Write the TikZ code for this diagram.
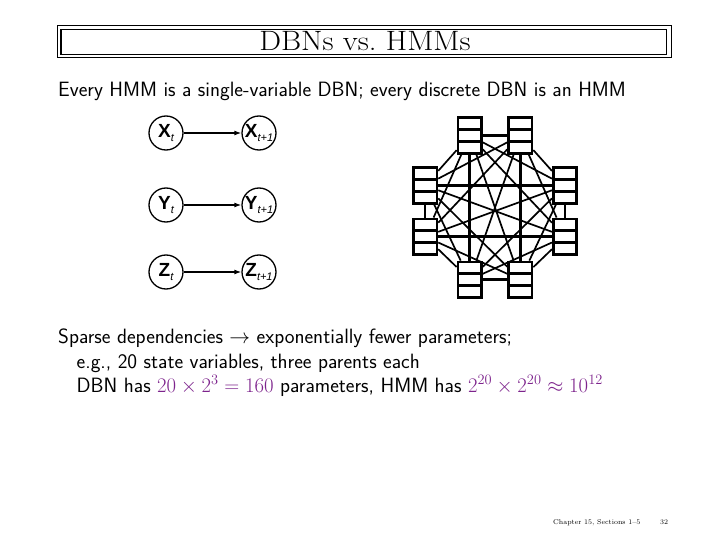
\documentclass[tikz,border=0pt]{standalone}
\usepackage{fontspec}
\newfontfamily\labfont{Liberation Sans}
\usetikzlibrary{arrows.meta,calc}
\definecolor{mathpurple}{RGB}{125,35,140}
\newcommand{\bigX}[2]{{\labfont\bfseries\fontsize{19}{19}\selectfont #1}{\labfont\itshape\fontsize{11}{11}\selectfont\raisebox{-4pt}{#2}}}
\begin{document}
\begin{tikzpicture}[x=1pt,y=-1pt,
  state/.style={circle,draw,line width=1.3pt,minimum size=34pt,inner sep=0pt},
  arr/.style={-{Latex[length=7pt,width=5pt]},line width=1.3pt},
  hbox/.style={rectangle,draw,line width=2.6pt,fill=white,minimum width=23.5pt,minimum height=35.5pt,inner sep=0pt,
    path picture={
      \draw[line width=2.6pt]
        ($(path picture bounding box.north west)!0.3333!(path picture bounding box.south west)$) --
        ($(path picture bounding box.north east)!0.3333!(path picture bounding box.south east)$)
        ($(path picture bounding box.north west)!0.6667!(path picture bounding box.south west)$) --
        ($(path picture bounding box.north east)!0.6667!(path picture bounding box.south east)$);
    }},
  hedge/.style={line width=1.7pt},
  sedge/.style={line width=2.5pt},
  sans/.style={anchor=base west,inner sep=0pt,font=\sffamily\fontsize{20.7}{24}\selectfont}
]
\useasboundingbox (0,0) rectangle (720,540);

% title frame
\draw[line width=1.8pt] (57.5,25.5) rectangle (671.5,57.5);
\draw[line width=1.2pt] (61,29.5) rectangle (666.5,54.5);
\node[anchor=base,inner sep=0pt,font=\fontsize{28}{30}\selectfont] (title) at (365,51) {\scalebox{1.1}[1]{DBNs vs.\ HMMs}};

% first line
\node[sans] (l1) at (58,97) {Every HMM is a single-variable DBN; every discrete DBN is an HMM};

% DBN
\node[state] (xt) at (166,133) {\bigX{X}{t}};
\node[state] (xt1) at (259,133) {\bigX{X}{t+1}};
\node[state] (yt) at (166,205) {\bigX{Y}{t}};
\node[state] (yt1) at (259,205) {\bigX{Y}{t+1}};
\node[state] (zt) at (166,272) {\bigX{Z}{t}};
\node[state] (zt1) at (259,272) {\bigX{Z}{t+1}};
\draw[arr] (xt) -- (xt1);
\draw[arr] (yt) -- (yt1);
\draw[arr] (zt) -- (zt1);

% HMM
\node[hbox] (n1) at (469.7,135.5) {};
\node[hbox] (n2) at (520.3,135.5) {};
\node[hbox] (n3) at (565,185.5) {};
\node[hbox] (n4) at (565,236.6) {};
\node[hbox] (n5) at (520.3,279.7) {};
\node[hbox] (n6) at (469.7,279.7) {};
\node[hbox] (n7) at (425.2,236.6) {};
\node[hbox] (n8) at (425.2,185.5) {};
\foreach \a/\b in {1/2,3/4,5/6,7/8,1/6,2/5,8/3,7/4}{
  \draw[sedge] (n\a) -- (n\b);
}
\foreach \a/\b in {1/3,1/4,1/5,1/7,1/8,2/3,2/4,2/6,2/7,2/8,3/5,3/6,3/7,4/5,4/6,4/8,5/7,5/8,6/7,6/8}{
  \draw[hedge] (n\a) -- (n\b);
}

% bottom text
\node[sans] (s1) at (58,343) {Sparse dependencies $\rightarrow$ exponentially fewer parameters;};
\node[sans] (s2) at (76.5,368) {e.g., 20 state variables, three parents each};
\node[sans] (s3) at (76.5,392) {DBN has {\fontsize{20.5}{24}\selectfont\color{mathpurple}$20\times2^3=160$} parameters, HMM has {\fontsize{20}{24}\selectfont\color{mathpurple}$2^{20}\times2^{20}\approx10^{12}$}};

% footer
\node[anchor=base west,inner sep=0pt,font=\fontsize{7}{8}\selectfont] (foot) at (553,524) {Chapter 15, Sections 1--5};
\node[anchor=base west,inner sep=0pt,font=\fontsize{7}{8}\selectfont] (page) at (660,524) {32};
\end{tikzpicture}
\end{document}
